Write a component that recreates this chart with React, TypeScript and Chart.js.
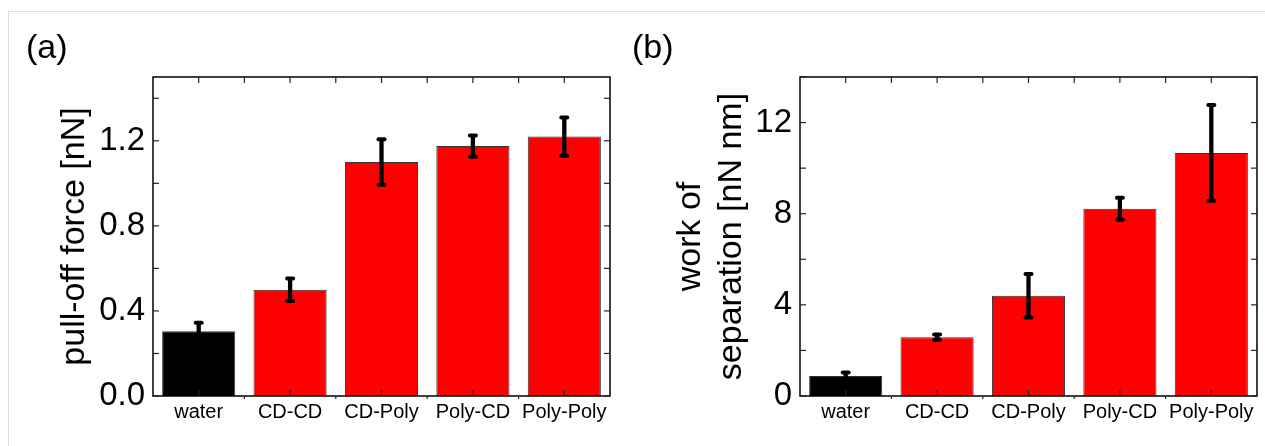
import React, { useEffect, useRef } from 'react';
import { Chart, registerables } from 'chart.js';

Chart.register(...registerables);

const categories = ['water', 'CD-CD', 'CD-Poly', 'Poly-CD', 'Poly-Poly'];
const pullOffForce = [0.305, 0.5, 1.1, 1.175, 1.22];
const pullOffForceErr = [0.04, 0.053, 0.107, 0.05, 0.09];
const workOfSeparation = [0.88, 2.58, 4.4, 8.22, 10.67];
const workOfSeparationErr = [0.15, 0.12, 0.95, 0.48, 2.1];
const barColors = ['#000000', '#ff0000', '#ff0000', '#ff0000', '#ff0000'];
const pullOffMajorTicks = [0, 0.4, 0.8, 1.2];
const workMajorTicks = [0, 4, 8, 12];

const FONT = "'Liberation Sans', Arial, sans-serif";

const frameTicksPlugin = {
  id: 'frameTicks',
  afterDatasetsDraw(chart: any, _args: any, opts: any) {
    const { ctx, chartArea: ca, scales } = chart;
    const x = scales.x;
    const y = scales.y;
    const vals: number[] = opts.values;
    const errs: number[] = opts.errors;
    ctx.save();
    // error bars
    ctx.strokeStyle = '#000';
    vals.forEach((v, i) => {
      const px = x.getPixelForValue(i);
      const yTop = y.getPixelForValue(v + errs[i]);
      const yBot = y.getPixelForValue(v - errs[i]);
      ctx.lineWidth = 4.3;
      ctx.lineCap = 'butt';
      ctx.beginPath();
      ctx.moveTo(px, yTop);
      ctx.lineTo(px, yBot);
      ctx.stroke();
      ctx.lineWidth = 4;
      ctx.lineCap = 'round';
      [yTop, yBot].forEach((yy) => {
        ctx.beginPath();
        ctx.moveTo(px - 3, yy);
        ctx.lineTo(px + 3, yy);
        ctx.stroke();
      });
    });
    // frame
    ctx.lineCap = 'butt';
    ctx.lineWidth = 1.5;
    ctx.strokeStyle = '#000';
    ctx.strokeRect(ca.left, ca.top, ca.right - ca.left, ca.bottom - ca.top);
    // ticks
    const L = 6;
    ctx.lineWidth = 1.2;
    ctx.strokeStyle = '#222';
    const seg = (x1: number, y1: number, x2: number, y2: number) => {
      ctx.beginPath();
      ctx.moveTo(x1, y1);
      ctx.lineTo(x2, y2);
      ctx.stroke();
    };
    y.ticks.forEach((t: any) => {
      const py = y.getPixelForValue(t.value);
      seg(ca.left, py, ca.left + L, py);
      seg(ca.right, py, ca.right - L, py);
    });
    const n = x.ticks.length;
    for (let i = 0; i < n; i++) {
      const px = x.getPixelForValue(i);
      seg(px, ca.top, px, ca.top + L);
      seg(px, ca.bottom, px, ca.bottom - L);
    }
    for (let i = 1; i < n; i++) {
      const px = x.getPixelForValue(i - 0.5);
      seg(px, ca.top, px, ca.top + L);
      seg(px, ca.bottom, px, ca.bottom + 3);
    }
    ctx.restore();
  },
};

type PanelProps = {
  left: number;
  width: number;
  values: number[];
  errors: number[];
  max: number;
  step: number;
  majors: number[];
  decimals: number;
  title: string | string[];
  titlePad: number;
  yAxisWidth: number;
  padRight: number;
};

function Panel(p: PanelProps) {
  const ref = useRef<HTMLCanvasElement>(null);
  useEffect(() => {
    if (!ref.current) return;
    const chart = new Chart(ref.current, {
      type: 'bar',
      data: {
        labels: categories,
        datasets: [
          {
            data: p.values,
            backgroundColor: barColors,
            borderColor: '#333333',
            borderWidth: 1,
            barPercentage: 0.8,
            categoryPercentage: 1.0,
          },
        ],
      },
      options: {
        animation: false,
        responsive: false,
        maintainAspectRatio: false,
        devicePixelRatio: 1,
        layout: { padding: { top: 77, left: 0, right: p.padRight, bottom: 0 } },
        plugins: {
          legend: { display: false },
          tooltip: { enabled: false },
          frameTicks: { values: p.values, errors: p.errors },
        } as any,
        scales: {
          x: {
            type: 'category',
            offset: true,
            grid: { display: false, drawTicks: false },
            border: { display: false },
            ticks: {
              color: '#000',
              font: { family: FONT, size: 20 },
              padding: 4,
              maxRotation: 0,
              autoSkip: false,
            },
            afterFit: (s: any) => {
              s.height = 50;
            },
          },
          y: {
            min: 0,
            max: p.max,
            grid: { display: false, drawTicks: false },
            border: { display: false },
            ticks: {
              stepSize: p.step,
              includeBounds: false,
              autoSkip: false,
              padding: 8,
              color: '#000',
              font: { family: FONT, size: 33 },
              callback: (v: any) => {
                const num = Number(v);
                const hit = p.majors.find((m) => Math.abs(m - num) < 1e-6);
                return hit === undefined ? '' : hit.toFixed(p.decimals);
              },
            },
            title: {
              display: true,
              text: p.title,
              color: '#000',
              font: { family: FONT, size: 34, lineHeight: 1.2 },
              padding: { top: p.titlePad, bottom: 0 },
            },
            afterFit: (s: any) => {
              s.width = p.yAxisWidth;
            },
          },
        },
      } as any,
      plugins: [frameTicksPlugin],
    });
    return () => chart.destroy();
  }, []);
  return (
    <canvas
      ref={ref}
      width={p.width}
      height={446}
      style={{ position: 'absolute', left: p.left, top: 0, width: p.width, height: 446 }}
    />
  );
}

export default function App() {
  const labelStyle: React.CSSProperties = {
    position: 'absolute',
    top: 29,
    fontFamily: FONT,
    fontSize: 34,
    lineHeight: 1,
    color: '#000',
  };
  return (
    <div
      style={{
        position: 'absolute',
        left: 0,
        top: 0,
        width: 1265,
        height: 446,
        background: '#fff',
        overflow: 'hidden',
      }}
    >
      <div
        style={{
          position: 'absolute',
          left: 8,
          top: 11,
          width: 1300,
          height: 500,
          borderTop: '1.5px solid #dddddd',
          borderLeft: '1.5px solid #dddddd',
        }}
      />
      <Panel
        left={0}
        width={630}
        values={pullOffForce}
        errors={pullOffForceErr}
        max={1.5}
        step={0.2}
        majors={pullOffMajorTicks}
        decimals={1}
        title="pull-off force [nN]"
        titlePad={54.6}
        yAxisWidth={153}
        padRight={20}
      />
      <Panel
        left={630}
        width={635}
        values={workOfSeparation}
        errors={workOfSeparationErr}
        max={14}
        step={2}
        majors={workMajorTicks}
        decimals={0}
        title={['work of', 'separation [nN nm]']}
        titlePad={40.6}
        yAxisWidth={170}
        padRight={8}
      />
      <div style={{ ...labelStyle, left: 26 }}>(a)</div>
      <div style={{ ...labelStyle, left: 632 }}>(b)</div>
    </div>
  );
}
